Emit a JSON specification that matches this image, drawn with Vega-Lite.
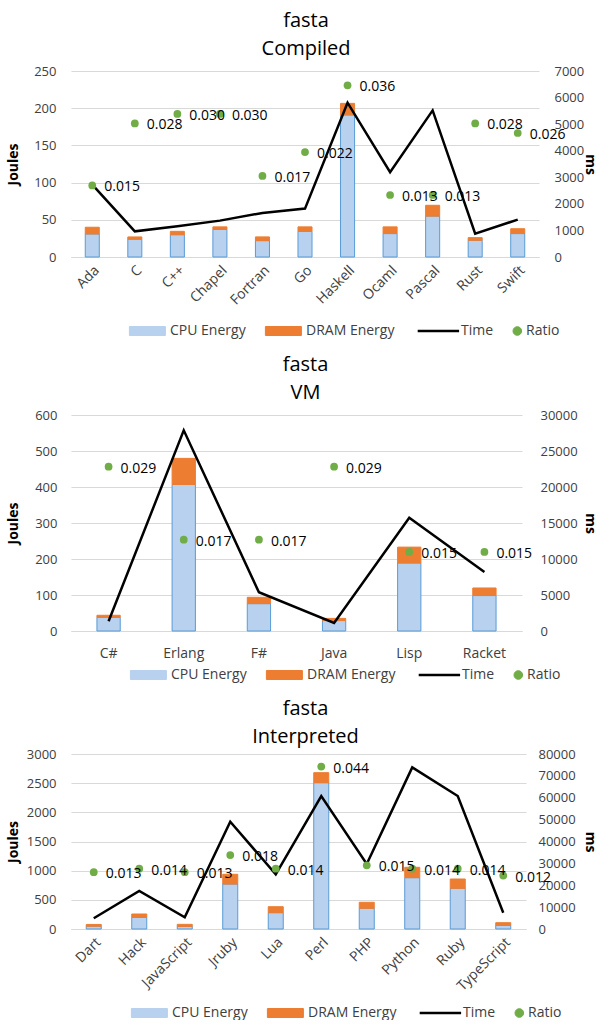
{
  "$schema": "https://vega.github.io/schema/vega-lite/v6.json",
  "padding": {"top": 11, "left": 6, "right": 14, "bottom": 0},
  "background": "white",
  "config": {
    "font": "Open Sans",
    "view": {"stroke": null},
    "axis": {"labelFont": "Open Sans", "labelFontSize": 13, "labelColor": "#404040", "titleFont": "Open Sans", "titleFontSize": 14, "titleFontWeight": "bold", "titleColor": "#000000", "gridColor": "#d9d9d9", "domainColor": "#d9d9d9", "ticks": false, "tickSize": 0}
  },
  "datasets": {
    "compiled": [
      {"lang": "Ada", "CPU Energy": 31, "DRAM Energy": 9, "Time": 2726, "Ratio": 0.015},
      {"lang": "C", "CPU Energy": 24, "DRAM Energy": 3, "Time": 966, "Ratio": 0.028},
      {"lang": "C++", "CPU Energy": 30, "DRAM Energy": 4.5, "Time": 1154, "Ratio": 0.030},
      {"lang": "Chapel", "CPU Energy": 37, "DRAM Energy": 3.5, "Time": 1369, "Ratio": 0.030},
      {"lang": "Fortran", "CPU Energy": 22, "DRAM Energy": 5, "Time": 1659, "Ratio": 0.017},
      {"lang": "Go", "CPU Energy": 34.5, "DRAM Energy": 6, "Time": 1821, "Ratio": 0.022},
      {"lang": "Haskell", "CPU Energy": 191, "DRAM Energy": 15.5, "Time": 5807, "Ratio": 0.036},
      {"lang": "Ocaml", "CPU Energy": 31.5, "DRAM Energy": 9, "Time": 3190, "Ratio": 0.013},
      {"lang": "Pascal", "CPU Energy": 55, "DRAM Energy": 14.5, "Time": 5517, "Ratio": 0.013},
      {"lang": "Rust", "CPU Energy": 22.5, "DRAM Energy": 3.5, "Time": 879, "Ratio": 0.028},
      {"lang": "Swift", "CPU Energy": 31.5, "DRAM Energy": 6.5, "Time": 1407, "Ratio": 0.026}
    ],
    "vm": [
      {"lang": "C#", "CPU Energy": 38, "DRAM Energy": 5.7, "Time": 1350, "Ratio": 0.029},
      {"lang": "Erlang", "CPU Energy": 407, "DRAM Energy": 72.5, "Time": 27870, "Ratio": 0.017},
      {"lang": "F#", "CPU Energy": 76, "DRAM Energy": 17.7, "Time": 5380, "Ratio": 0.017},
      {"lang": "Java", "CPU Energy": 29, "DRAM Energy": 6, "Time": 1113, "Ratio": 0.029},
      {"lang": "Lisp", "CPU Energy": 189, "DRAM Energy": 44, "Time": 15716, "Ratio": 0.015},
      {"lang": "Racket", "CPU Energy": 98.5, "DRAM Energy": 21, "Time": 8206, "Ratio": 0.015}
    ],
    "interpreted": [
      {"lang": "Dart", "CPU Energy": 48, "DRAM Energy": 30, "Time": 4890, "Ratio": 0.013},
      {"lang": "Hack", "CPU Energy": 200, "DRAM Energy": 57, "Time": 17370, "Ratio": 0.014},
      {"lang": "JavaScript", "CPU Energy": 45, "DRAM Energy": 35, "Time": 5350, "Ratio": 0.013},
      {"lang": "Jruby", "CPU Energy": 771, "DRAM Energy": 167, "Time": 49050, "Ratio": 0.018},
      {"lang": "Lua", "CPU Energy": 280, "DRAM Energy": 102, "Time": 25000, "Ratio": 0.014},
      {"lang": "Perl", "CPU Energy": 2508, "DRAM Energy": 172, "Time": 60800, "Ratio": 0.044},
      {"lang": "PHP", "CPU Energy": 355, "DRAM Energy": 103, "Time": 29700, "Ratio": 0.015},
      {"lang": "Python", "CPU Energy": 880, "DRAM Energy": 178, "Time": 73900, "Ratio": 0.014},
      {"lang": "Ruby", "CPU Energy": 698, "DRAM Energy": 159, "Time": 60800, "Ratio": 0.014},
      {"lang": "TypeScript", "CPU Energy": 63, "DRAM Energy": 45, "Time": 7450, "Ratio": 0.012}
    ]
  },
  "spacing": 17,
  "bounds": "full",
  "resolve": {"scale": {"color": "independent"}, "legend": {"color": "independent"}},
  "vconcat": [
    {
      "width": 468, "height": 186,
      "data": {"name": "compiled"},
      "title": {"text": "fasta", "subtitle": "Compiled", "fontSize": 20, "subtitleFontSize": 20, "fontWeight": "normal", "font": "Open Sans", "subtitleFont": "Open Sans", "color": "#000000", "subtitleColor": "#000000", "anchor": "middle", "frame": "group", "dx": 1, "offset": 6, "subtitlePadding": 8},
      "resolve": {"scale": {"y": "independent"}},
      "encoding": {"x": {"field": "lang", "type": "nominal", "sort": null, "scale": {"paddingInner": 0.67, "paddingOuter": 0.335}, "axis": {"title": null, "labelAngle": -45, "labelFontSize": 14, "labelPadding": 6, "domain": true, "grid": false}}},
      "layer": [
        {
          "transform": [{"fold": ["CPU Energy", "DRAM Energy"], "as": ["key", "joules"]}],
          "mark": {"type": "bar", "strokeWidth": 1},
          "encoding": {
            "y": {"field": "joules", "type": "quantitative", "stack": "zero", "scale": {"domain": [0, 250]}, "axis": {"title": "Joules", "orient": "left", "values": [0, 50, 100, 150, 200, 250], "format": "d", "grid": true, "domain": false, "labelPadding": 15, "titleX": -58, "titleBaseline": "middle"}},
            "color": {"field": "key", "type": "nominal", "scale": {"domain": ["CPU Energy", "DRAM Energy", "Time", "Ratio"], "range": ["#b7d1ee", "#ed7d31", "#000000", "#70ad47"]},
              "legend": {"orient": "none", "legendX": 73, "legendY": 253, "direction": "horizontal", "columns": 4, "title": null, "labelFont": "Open Sans", "labelFontSize": 14, "labelColor": "#404040", "symbolSize": 1296, "columnPadding": 17, "labelOffset": 12, "symbolOffset": 0, "padding": 0,
                "encode": {
                  "symbols": {"update": {
                    "shape": {"signal": "datum.value === 'Time' ? 'M-1.35,0H0.95' : datum.value === 'Ratio' ? 'M-1,0A0.24,0.24 0 1,0 -0.52,0A0.24,0.24 0 1,0 -1,0Z' : 'M-1.2,-0.25H0.8V0.25H-1.2Z'"},
                    "fill": {"signal": "datum.value === 'CPU Energy' ? '#b7d1ee' : datum.value === 'DRAM Energy' ? '#ed7d31' : datum.value === 'Ratio' ? '#70ad47' : 'transparent'"},
                    "stroke": {"signal": "datum.value === 'CPU Energy' ? '#5b9bd5' : datum.value === 'Time' ? '#000000' : 'transparent'"},
                    "strokeWidth": {"signal": "datum.value === 'Time' ? 2.5 : 1"},
                    "size": {"value": 1296},
                    "opacity": {"value": 1}
                  }},
                  "labels": {"update": {"dx": {"signal": "datum.value === 'Ratio' ? -24 : 0"}}}
                }}},
            "stroke": {"field": "key", "type": "nominal", "scale": {"domain": ["CPU Energy", "DRAM Energy"], "range": ["#5b9bd5", "#ed7d31"]}, "legend": null},
            "order": {"field": "key"}
          }
        },
        {
          "mark": {"type": "line", "strokeWidth": 2.5},
          "encoding": {
            "y": {"field": "Time", "type": "quantitative", "scale": {"domain": [0, 7000]}, "axis": {"title": "ms", "orient": "right", "values": [0, 1000, 2000, 3000, 4000, 5000, 6000, 7000], "format": "d", "grid": false, "domain": false, "labelPadding": 15, "titleX": 50, "titleBaseline": "middle"}},
            "color": {"datum": "Time"}
          }
        },
        {
          "layer": [
            {"mark": {"type": "point", "filled": true, "size": 60, "opacity": 1},
             "encoding": {"y": {"field": "Ratio", "type": "quantitative", "scale": {"domain": [0, 0.039]}, "axis": null}, "color": {"datum": "Ratio"}}},
            {"mark": {"type": "text", "align": "left", "baseline": "middle", "dx": 12, "dy": 2, "fontSize": 14, "font": "Open Sans", "color": "#000000"},
             "encoding": {"y": {"field": "Ratio", "type": "quantitative", "scale": {"domain": [0, 0.039]}, "axis": null}, "text": {"field": "Ratio", "type": "quantitative", "format": ".3f"}}}
          ]
        }
      ]
    },
    {
      "width": 451, "height": 216,
      "data": {"name": "vm"},
      "title": {"text": "fasta", "subtitle": "VM", "fontSize": 20, "subtitleFontSize": 20, "fontWeight": "normal", "font": "Open Sans", "subtitleFont": "Open Sans", "color": "#000000", "subtitleColor": "#000000", "anchor": "middle", "frame": "group", "dx": 9, "offset": 6, "subtitlePadding": 8},
      "resolve": {"scale": {"y": "independent"}},
      "encoding": {"x": {"field": "lang", "type": "nominal", "sort": null, "scale": {"paddingInner": 0.69, "paddingOuter": 0.345}, "axis": {"title": null, "labelAngle": 0, "labelFontSize": 14, "labelPadding": 15, "domain": true, "grid": false}}},
      "layer": [
        {
          "transform": [{"fold": ["CPU Energy", "DRAM Energy"], "as": ["key", "joules"]}],
          "mark": {"type": "bar", "strokeWidth": 1},
          "encoding": {
            "y": {"field": "joules", "type": "quantitative", "stack": "zero", "scale": {"domain": [0, 600]}, "axis": {"title": "Joules", "orient": "left", "values": [0, 100, 200, 300, 400, 500, 600], "format": "d", "grid": true, "domain": false, "labelPadding": 14, "titleX": -58, "titleBaseline": "middle"}},
            "color": {"field": "key", "type": "nominal", "scale": {"domain": ["CPU Energy", "DRAM Energy", "Time", "Ratio"], "range": ["#b7d1ee", "#ed7d31", "#000000", "#70ad47"]},
              "legend": {"orient": "none", "legendX": 74, "legendY": 253, "direction": "horizontal", "columns": 4, "title": null, "labelFont": "Open Sans", "labelFontSize": 14, "labelColor": "#404040", "symbolSize": 1296, "columnPadding": 17, "labelOffset": 12, "symbolOffset": 0, "padding": 0,
                "encode": {
                  "symbols": {"update": {
                    "shape": {"signal": "datum.value === 'Time' ? 'M-1.35,0H0.95' : datum.value === 'Ratio' ? 'M-1,0A0.24,0.24 0 1,0 -0.52,0A0.24,0.24 0 1,0 -1,0Z' : 'M-1.2,-0.25H0.8V0.25H-1.2Z'"},
                    "fill": {"signal": "datum.value === 'CPU Energy' ? '#b7d1ee' : datum.value === 'DRAM Energy' ? '#ed7d31' : datum.value === 'Ratio' ? '#70ad47' : 'transparent'"},
                    "stroke": {"signal": "datum.value === 'CPU Energy' ? '#5b9bd5' : datum.value === 'Time' ? '#000000' : 'transparent'"},
                    "strokeWidth": {"signal": "datum.value === 'Time' ? 2.5 : 1"},
                    "size": {"value": 1296},
                    "opacity": {"value": 1}
                  }},
                  "labels": {"update": {"dx": {"signal": "datum.value === 'Ratio' ? -24 : 0"}}}
                }}},
            "stroke": {"field": "key", "type": "nominal", "scale": {"domain": ["CPU Energy", "DRAM Energy"], "range": ["#5b9bd5", "#ed7d31"]}, "legend": null},
            "order": {"field": "key"}
          }
        },
        {
          "mark": {"type": "line", "strokeWidth": 2.5},
          "encoding": {
            "y": {"field": "Time", "type": "quantitative", "scale": {"domain": [0, 30000]}, "axis": {"title": "ms", "orient": "right", "values": [0, 5000, 10000, 15000, 20000, 25000, 30000], "format": "d", "grid": false, "domain": false, "labelPadding": 18, "titleX": 67, "titleBaseline": "middle"}},
            "color": {"datum": "Time"}
          }
        },
        {
          "layer": [
            {"mark": {"type": "point", "filled": true, "size": 60, "opacity": 1},
             "encoding": {"y": {"field": "Ratio", "type": "quantitative", "scale": {"domain": [0.002, 0.0375], "zero": false}, "axis": null}, "color": {"datum": "Ratio"}}},
            {"mark": {"type": "text", "align": "left", "baseline": "middle", "dx": 12, "dy": 2, "fontSize": 14, "font": "Open Sans", "color": "#000000"},
             "encoding": {"y": {"field": "Ratio", "type": "quantitative", "scale": {"domain": [0.002, 0.0375], "zero": false}, "axis": null}, "text": {"field": "Ratio", "type": "quantitative", "format": ".3f"}}}
          ]
        }
      ]
    },
    {
      "width": 455, "height": 175,
      "data": {"name": "interpreted"},
      "title": {"text": "fasta", "subtitle": "Interpreted", "fontSize": 20, "subtitleFontSize": 20, "fontWeight": "normal", "font": "Open Sans", "subtitleFont": "Open Sans", "color": "#000000", "subtitleColor": "#000000", "anchor": "middle", "frame": "group", "dx": 7, "offset": 1, "subtitlePadding": 8},
      "resolve": {"scale": {"y": "independent"}},
      "encoding": {"x": {"field": "lang", "type": "nominal", "sort": null, "scale": {"paddingInner": 0.67, "paddingOuter": 0.335}, "axis": {"title": null, "labelAngle": -45, "labelFontSize": 14, "labelPadding": 6, "domain": true, "grid": false}}},
      "layer": [
        {
          "transform": [{"fold": ["CPU Energy", "DRAM Energy"], "as": ["key", "joules"]}],
          "mark": {"type": "bar", "strokeWidth": 1},
          "encoding": {
            "y": {"field": "joules", "type": "quantitative", "stack": "zero", "scale": {"domain": [0, 3000]}, "axis": {"title": "Joules", "orient": "left", "values": [0, 500, 1000, 1500, 2000, 2500, 3000], "format": "d", "grid": true, "domain": false, "labelPadding": 15, "titleX": -58, "titleBaseline": "middle"}},
            "color": {"field": "key", "type": "nominal", "scale": {"domain": ["CPU Energy", "DRAM Energy", "Time", "Ratio"], "range": ["#b7d1ee", "#ed7d31", "#000000", "#70ad47"]},
              "legend": {"orient": "none", "legendX": 75, "legendY": 252, "direction": "horizontal", "columns": 4, "title": null, "labelFont": "Open Sans", "labelFontSize": 14, "labelColor": "#404040", "symbolSize": 1296, "columnPadding": 17, "labelOffset": 12, "symbolOffset": 0, "padding": 0,
                "encode": {
                  "symbols": {"update": {
                    "shape": {"signal": "datum.value === 'Time' ? 'M-1.35,0H0.95' : datum.value === 'Ratio' ? 'M-1,0A0.24,0.24 0 1,0 -0.52,0A0.24,0.24 0 1,0 -1,0Z' : 'M-1.2,-0.25H0.8V0.25H-1.2Z'"},
                    "fill": {"signal": "datum.value === 'CPU Energy' ? '#b7d1ee' : datum.value === 'DRAM Energy' ? '#ed7d31' : datum.value === 'Ratio' ? '#70ad47' : 'transparent'"},
                    "stroke": {"signal": "datum.value === 'CPU Energy' ? '#5b9bd5' : datum.value === 'Time' ? '#000000' : 'transparent'"},
                    "strokeWidth": {"signal": "datum.value === 'Time' ? 2.5 : 1"},
                    "size": {"value": 1296},
                    "opacity": {"value": 1}
                  }},
                  "labels": {"update": {"dx": {"signal": "datum.value === 'Ratio' ? -24 : 0"}}}
                }}},
            "stroke": {"field": "key", "type": "nominal", "scale": {"domain": ["CPU Energy", "DRAM Energy"], "range": ["#5b9bd5", "#ed7d31"]}, "legend": null},
            "order": {"field": "key"}
          }
        },
        {
          "mark": {"type": "line", "strokeWidth": 2.5},
          "encoding": {
            "y": {"field": "Time", "type": "quantitative", "scale": {"domain": [0, 80000]}, "axis": {"title": "ms", "orient": "right", "values": [0, 10000, 20000, 30000, 40000, 50000, 60000, 70000, 80000], "format": "d", "grid": false, "domain": false, "labelPadding": 12, "titleX": 63, "titleBaseline": "middle"}},
            "color": {"datum": "Time"}
          }
        },
        {
          "layer": [
            {"mark": {"type": "point", "filled": true, "size": 60, "opacity": 1},
             "encoding": {"y": {"field": "Ratio", "type": "quantitative", "scale": {"domain": [-0.0037, 0.0477], "zero": false}, "axis": null}, "color": {"datum": "Ratio"}}},
            {"mark": {"type": "text", "align": "left", "baseline": "middle", "dx": 12, "dy": 2, "fontSize": 14, "font": "Open Sans", "color": "#000000"},
             "encoding": {"y": {"field": "Ratio", "type": "quantitative", "scale": {"domain": [-0.0037, 0.0477], "zero": false}, "axis": null}, "text": {"field": "Ratio", "type": "quantitative", "format": ".3f"}}}
          ]
        }
      ]
    }
  ]
}
